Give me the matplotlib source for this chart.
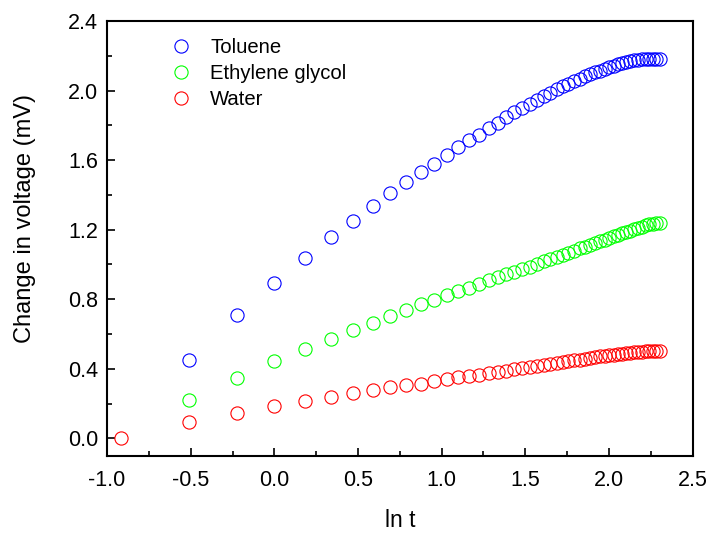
import numpy as np
import matplotlib
matplotlib.use('Agg')
import matplotlib.pyplot as plt
from matplotlib.ticker import MultipleLocator

plt.rcParams['font.family'] = ['Liberation Sans', 'DejaVu Sans']

nan = float('nan')

# sampling times (s); plotted against ln t
t = [0.4, 0.6, 0.8, 1.0, 1.2, 1.4, 1.6, 1.8, 2.0, 2.2,
     2.4, 2.6, 2.8, 3.0, 3.2, 3.4, 3.6, 3.8, 4.0, 4.2,
     4.4, 4.6, 4.8, 5.0, 5.2, 5.4, 5.6, 5.8, 6.0, 6.2,
     6.4, 6.6, 6.8, 7.0, 7.2, 7.4, 7.6, 7.8, 8.0, 8.2,
     8.4, 8.6, 8.8, 9.0, 9.2, 9.4, 9.6, 9.8, 10.0]

toluene = [nan, 0.45, 0.707, 0.893, 1.035, 1.155, 1.251, 1.334, 1.409, 1.472,
           1.530, 1.579, 1.629, 1.674, 1.716, 1.747, 1.785, 1.814, 1.845, 1.875,
           1.900, 1.921, 1.945, 1.968, 1.987, 2.010, 2.025, 2.040, 2.054, 2.067,
           2.081, 2.094, 2.106, 2.115, 2.125, 2.135, 2.144, 2.150, 2.158, 2.164,
           2.169, 2.173, 2.177, 2.180, 2.182, 2.183, 2.184, 2.184, 2.180]

glycol = [nan, 0.219, 0.348, 0.442, 0.513, 0.574, 0.621, 0.663, 0.703, 0.736,
          0.771, 0.795, 0.822, 0.846, 0.867, 0.888, 0.911, 0.930, 0.944, 0.957,
          0.972, 0.988, 1.003, 1.020, 1.030, 1.045, 1.057, 1.066, 1.080, 1.092,
          1.103, 1.111, 1.122, 1.134, 1.143, 1.153, 1.162, 1.170, 1.178, 1.187,
          1.195, 1.203, 1.210, 1.218, 1.224, 1.230, 1.234, 1.238, 1.240]

water = [0.0, 0.092, 0.144, 0.184, 0.213, 0.239, 0.258, 0.277, 0.294, 0.304,
         0.315, 0.329, 0.342, 0.352, 0.360, 0.366, 0.377, 0.383, 0.390, 0.396,
         0.403, 0.411, 0.417, 0.423, 0.428, 0.434, 0.438, 0.444, 0.450, 0.453,
         0.457, 0.463, 0.467, 0.471, 0.475, 0.478, 0.480, 0.484, 0.486, 0.490,
         0.492, 0.494, 0.496, 0.498, 0.500, 0.501, 0.502, 0.503, 0.504]

lnt = np.log(t)

fig = plt.figure(figsize=(7.11, 5.34), dpi=100)
ax = fig.add_axes([0.1505, 0.1466, 0.8237, 0.8141])

style = dict(linestyle='none', marker='o', markersize=9.5,
             markerfacecolor='none', markeredgewidth=0.8)
ax.plot(lnt, toluene, color='#0000ff', label='Toluene', **style)
ax.plot(lnt, glycol, color='#00ff00', label='Ethylene glycol', **style)
ax.plot(lnt, water, color='#ff0000', label='Water', **style)

ax.set_xlim(-1.0, 2.5)
ax.set_ylim(-0.1, 2.4)
ax.xaxis.set_major_locator(MultipleLocator(0.5))
ax.xaxis.set_minor_locator(MultipleLocator(0.25))
ax.yaxis.set_major_locator(MultipleLocator(0.4))
ax.yaxis.set_minor_locator(MultipleLocator(0.2))
ax.xaxis.set_major_formatter(plt.FormatStrFormatter('%.1f'))
ax.yaxis.set_major_formatter(plt.FormatStrFormatter('%.1f'))
ax.tick_params(which='both', direction='in', top=False, right=False,
               width=1.2, labelsize=15.5)
ax.tick_params(axis='x', pad=10)
ax.tick_params(axis='y', pad=6.5)
ax.tick_params(which='major', length=6)
ax.tick_params(which='minor', length=3.5)
for s in ax.spines.values():
    s.set_linewidth(1.5)

ax.set_xlabel('ln t', fontsize=16.5, labelpad=13.5)
ax.set_ylabel('Change in voltage (mV)', fontsize=17)
ax.yaxis.set_label_coords(-0.121, 0.545)

ax.legend(loc='upper left', bbox_to_anchor=(0.1086, 0.961), frameon=False,
          fontsize=14.6, handlelength=1.0, handletextpad=0.95,
          labelspacing=0.34, borderpad=0, borderaxespad=0, numpoints=1)

fig.savefig('out.png', dpi=100)
